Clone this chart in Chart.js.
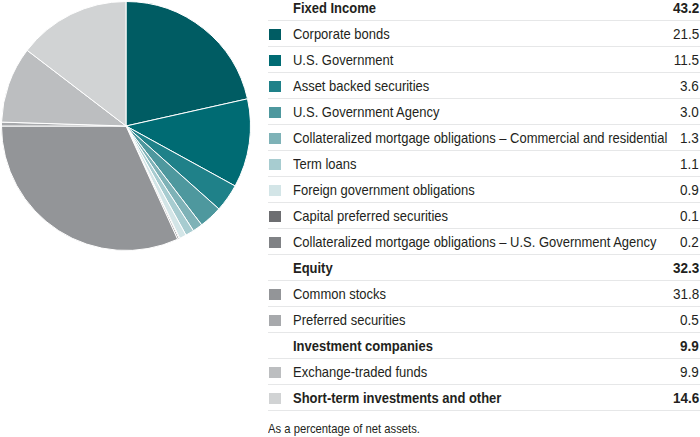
<!DOCTYPE html>
<html>
<head>
<meta charset="utf-8">
<script src="https://cdn.jsdelivr.net/npm/chart.js@4"></script>
<style>
  html, body { margin: 0; padding: 0; background: #fff; }
  body { width: 700px; height: 437px; position: relative; overflow: hidden;
         font-family: "Liberation Sans", Arial, sans-serif; color: #231f20; }
  #pieWrap { position: absolute; left: 0; top: 0; width: 252px; height: 252px; }
  #legend { position: absolute; left: 268px; top: -5px; width: 432px; }
  .row { height: 25px; border-bottom: 1px solid #e6e7e8; position: relative; font-size: 15px; line-height: 26px; }
  .row .sw { position: absolute; left: 1px; top: 8px; width: 12px; height: 11px; }
  .row .lbl { position: absolute; left: 25px; top: 0; white-space: nowrap;
              transform: scaleX(0.865); transform-origin: left center; }
  .row .val { position: absolute; right: 1px; top: 0;
              transform: scaleX(0.9); transform-origin: right center; }
  .row.head { font-weight: bold; }
  #note { position: absolute; left: 268px; top: 421px; font-size: 13px; white-space: nowrap;
          transform: scaleX(0.865); transform-origin: left center; }
</style>
</head>
<body>
<div id="pieWrap"><canvas id="pie" width="252" height="252"></canvas></div>
<div id="legend"></div>
<div id="note">As a percentage of net assets.</div>
<script>
const categories = [
  "Corporate bonds",
  "U.S. Government",
  "Asset backed securities",
  "U.S. Government Agency",
  "Collateralized mortgage obligations – Commercial and residential",
  "Term loans",
  "Foreign government obligations",
  "Capital preferred securities",
  "Collateralized mortgage obligations – U.S. Government Agency",
  "Common stocks",
  "Preferred securities",
  "Exchange-traded funds",
  "Short-term investments and other"
];
const values = [21.5, 11.5, 3.6, 3.0, 1.3, 1.1, 0.9, 0.1, 0.2, 31.8, 0.5, 9.9, 14.6];
const groupNames = ["Fixed Income", "Equity", "Investment companies", "Short-term investments and other"];
const groupTotals = ["43.2", "32.3", "9.9", "14.6"];
const groupOf = [0, 0, 0, 0, 0, 0, 0, 0, 0, 1, 1, 2, 3];

const colors = [
  "#005c63", "#006b73", "#1f8189", "#4e989e", "#7eb2b7", "#a7ccd0", "#d3e5e7",
  "#6d6e71", "#808285", "#939598", "#a7a9ac", "#bcbec0", "#d1d3d4"
];

// legend table
const legend = document.getElementById("legend");
let lastGroup = -1;
categories.forEach((name, i) => {
  const g = groupOf[i];
  const isSoloGroup = groupNames[g] === name;
  if (g !== lastGroup && !isSoloGroup) {
    legend.insertAdjacentHTML("beforeend",
      `<div class="row head"><span class="lbl">${groupNames[g]}</span><span class="val">${groupTotals[g]}</span></div>`);
  }
  lastGroup = g;
  legend.insertAdjacentHTML("beforeend",
    `<div class="row${isSoloGroup ? " head" : ""}"><span class="sw" style="background:${colors[i]}"></span>` +
    `<span class="lbl">${name}</span><span class="val">${isSoloGroup ? groupTotals[g] : values[i].toFixed(1)}</span></div>`);
});

new Chart(document.getElementById("pie"), {
  type: "pie",
  data: {
    labels: categories,
    datasets: [{
      data: values,
      backgroundColor: colors,
      borderColor: "#ffffff",
      borderWidth: 1
    }]
  },
  options: {
    responsive: false,
    animation: false,
    layout: { padding: 1 },
    plugins: { legend: { display: false }, tooltip: { enabled: false } }
  }
});
</script>
</body>
</html>
